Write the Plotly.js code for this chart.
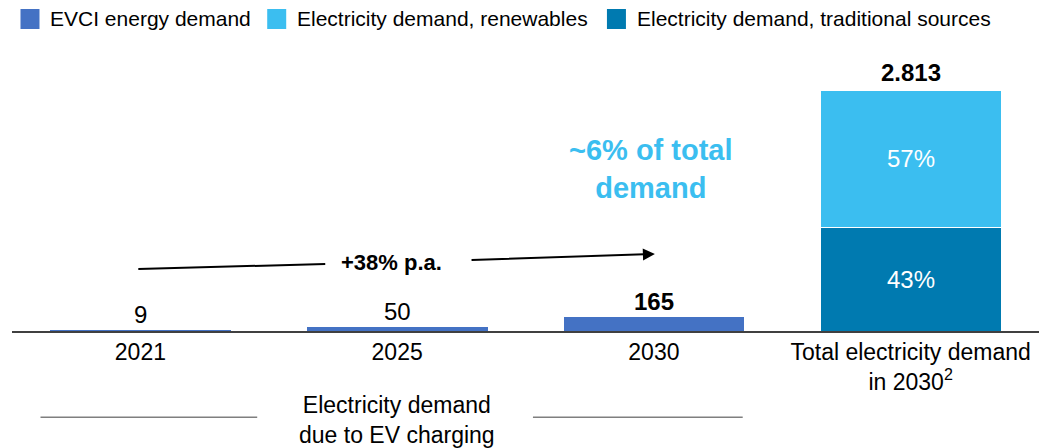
<!DOCTYPE html>
<html>
<head>
<meta charset="utf-8">
<script src="https://cdn.plot.ly/plotly-3.0.1.min.js"></script>
<style>html,body{margin:0;padding:0;background:#fff;}#chart{width:1042px;height:448px;}</style>
</head>
<body>
<div id="chart"></div>
<script>
const categories = ["2021", "2025", "2030", "Total electricity demand<br>in 2030<sup>2</sup>"];
const evciDemand = [9, 50, 165, null];
const renewablesDemand = [null, null, null, 1603];
const traditionalDemand = [null, null, null, 1210];
const renewablesShare = "57%";
const traditionalShare = "43%";
const totalLabel = "2.813";
const evciLabels = ["9", "50", "165"];
const evciLabelBold = [false, false, true];
const seriesNames = ["EVCI energy demand", "Electricity demand, renewables", "Electricity demand, traditional sources"];

const FONT = "Liberation Sans, Arial, sans-serif";
const C_EVCI = "#4472C4", C_REN = "#3BBEF0", C_TRAD = "#007AB0";
const seriesColors = [C_EVCI, C_REN, C_TRAD];

const traces = [
  {type: "bar", x: categories, y: evciDemand, name: seriesNames[0], marker: {color: C_EVCI}, hoverinfo: "skip"},
  {type: "bar", x: categories, y: traditionalDemand, name: seriesNames[2], marker: {color: C_TRAD, line: {color: "#fff", width: 1}}, hoverinfo: "skip"},
  {type: "bar", x: categories, y: renewablesDemand, name: seriesNames[1], marker: {color: C_REN, line: {color: "#fff", width: 1}}, hoverinfo: "skip"}
];

const annotations = [];
const shapes = [];

// custom legend (larger squares as in the reference)
const legSqX = [0.00827, 0.2485, 0.5793];
const legSqW = 0.0185;
for (let i = 0; i < 3; i++) {
  shapes.push({type: "rect", xref: "paper", yref: "paper", x0: legSqX[i], x1: legSqX[i] + legSqW, y0: 1.0378, y1: 1.1065,
    fillcolor: seriesColors[i], line: {width: 0}});
  annotations.push({x: legSqX[i] + legSqW + 0.0085, y: 1.0722, xref: "paper", yref: "paper", xanchor: "left", yanchor: "middle",
    showarrow: false, text: seriesNames[i], font: {family: FONT, size: 21, color: "#000"}});
}

for (let i = 0; i < 3; i++) {
  annotations.push({x: i, y: evciDemand[i], xref: "x", yref: "y", yanchor: "bottom", yshift: 0, showarrow: false,
    text: evciLabelBold[i] ? "<b>" + evciLabels[i] + "</b>" : evciLabels[i], font: {family: FONT, size: 24, color: "#000"}});
}
const total = traditionalDemand[3] + renewablesDemand[3];
annotations.push({x: 3, y: total, xref: "x", yref: "y", yanchor: "bottom", yshift: 2, showarrow: false,
  text: "<b>" + totalLabel + "</b>", font: {family: FONT, size: 24, color: "#000"}});
annotations.push({x: 3, y: traditionalDemand[3] + renewablesDemand[3] / 2, xref: "x", yref: "y", showarrow: false,
  text: renewablesShare, font: {family: FONT, size: 24, color: "#fff"}});
annotations.push({x: 3, y: traditionalDemand[3] / 2, xref: "x", yref: "y", showarrow: false,
  text: traditionalShare, font: {family: FONT, size: 24, color: "#fff"}});
// growth text
annotations.push({x: 0.98, y: 805, xref: "x", yref: "y", showarrow: false,
  text: "<b>+38% p.a.</b>", font: {family: FONT, size: 22, color: "#000"}});
// arrow segment
annotations.push({x: 2.004, y: 899, ax: 1.284, ay: 829, xref: "x", yref: "y", axref: "x", ayref: "y",
  showarrow: true, arrowhead: 2, arrowsize: 1.2, arrowwidth: 2, arrowcolor: "#000", text: ""});
// share callout
annotations.push({x: 1.99, y: 1891, xref: "x", yref: "y", showarrow: false,
  text: "<b>~6% of total<br>demand</b>", font: {family: FONT, size: 29, color: C_REN}});
// bottom bracket label
annotations.push({x: 1.0, y: -0.305, xref: "x", yref: "paper", yanchor: "middle", showarrow: false,
  text: "Electricity demand<br>due to EV charging", font: {family: FONT, size: 23, color: "#000"}});

shapes.push({type: "line", xref: "x", yref: "y", x0: -0.008, y0: 724, x1: 0.72, y1: 782, line: {color: "#000", width: 2}});
shapes.push({type: "line", xref: "x", yref: "paper", x0: -0.389, y0: -0.296, x1: 0.455, y1: -0.296, line: {color: "#7f7f7f", width: 1.5}});
shapes.push({type: "line", xref: "x", yref: "paper", x0: 1.529, y0: -0.296, x1: 2.346, y1: -0.296, line: {color: "#7f7f7f", width: 1.5}});

const layout = {
  width: 1042, height: 448,
  margin: {l: 11.5, r: 2.5, t: 40, b: 117},
  paper_bgcolor: "#fff", plot_bgcolor: "#fff",
  barmode: "stack", bargap: 0.296,
  font: {family: FONT, color: "#000"},
  showlegend: false,
  xaxis: {type: "category", range: [-0.5, 3.5], showgrid: false, zeroline: false, showline: true, linecolor: "#404040", linewidth: 1.5,
    ticks: "", tickfont: {family: FONT, size: 23, color: "#000"}, fixedrange: true},
  yaxis: {range: [0, 3397], visible: false, showgrid: false, zeroline: false, fixedrange: true},
  annotations: annotations,
  shapes: shapes
};

Plotly.newPlot("chart", traces, layout, {displayModeBar: false, staticPlot: true});
</script>
</body>
</html>
